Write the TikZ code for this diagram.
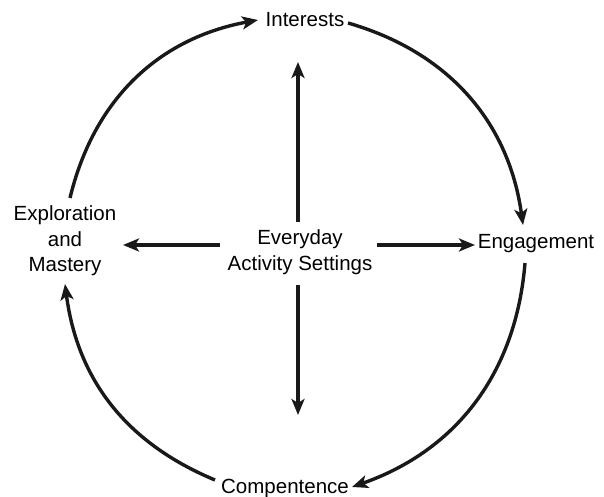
\documentclass[tikz,border=0pt]{standalone}
\usepackage{fontspec}
\setmainfont{Liberation Sans}
\usetikzlibrary{arrows.meta}
\tikzset{
  lbl/.style={inner sep=0pt, align=center, font=\fontsize{20.5}{25.5}\selectfont},
  conn/.style={line width=3.4pt, color=black!90, -{Stealth[length=16pt,width=13pt,inset=4pt]}},
}
\begin{document}
\begin{tikzpicture}[x=1pt,y=1pt]
\useasboundingbox (0,0) rectangle (604,497);
\node[lbl] (interests) at (305,477) {Interests};
\node[lbl] (engagement) at (536,253) {Engagement};
\node[lbl] (competence) at (285,9) {Compentence};
\node[lbl] (exploration) at (65,256) {Exploration\\and\\Mastery};
\node[lbl] (center) at (300,245) {Everyday\\Activity Settings};
% arc endpoints
\coordinate (a1s) at (70,299);  \coordinate (a1e) at (258,477);
\coordinate (a2s) at (348,474); \coordinate (a2e) at (523,272);
\coordinate (a3s) at (525,234); \coordinate (a3e) at (352,10);
\coordinate (a4s) at (215,17);  \coordinate (a4e) at (65,213);
% center arrow endpoints
\coordinate (upS) at (298,275); \coordinate (upE) at (298,435);
\coordinate (dnS) at (298,212); \coordinate (dnE) at (298,82);
\coordinate (lfS) at (220,252); \coordinate (lfE) at (123,252);
\coordinate (rtS) at (377,252); \coordinate (rtE) at (475,252);
\draw[conn] (a1s) to[bend left=33] (a1e);
\draw[conn] (a2s) to[bend left=33] (a2e);
\draw[conn] (a3s) to[bend left=33] (a3e);
\draw[conn] (a4s) to[bend left=30] (a4e);
\draw[conn] (upS) -- (upE);
\draw[conn] (dnS) -- (dnE);
\draw[conn] (lfS) -- (lfE);
\draw[conn] (rtS) -- (rtE);
\end{tikzpicture}
\end{document}
